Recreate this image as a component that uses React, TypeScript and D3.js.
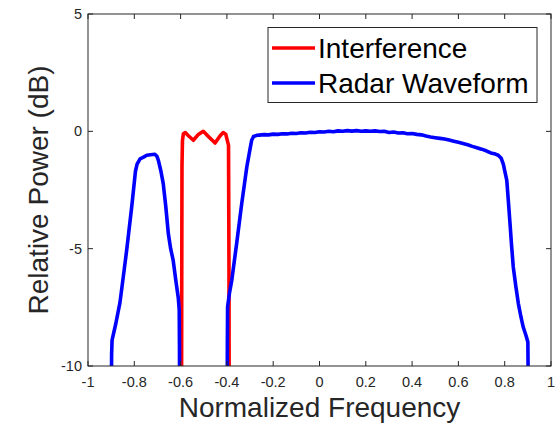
import React from "react";
import * as d3 from "d3";

const xTicks = [-1, -0.8, -0.6, -0.4, -0.2, 0, 0.2, 0.4, 0.6, 0.8, 1];
const xTickLabels = ["-1", "-0.8", "-0.6", "-0.4", "-0.2", "0", "0.2", "0.4", "0.6", "0.8", "1"];
const yTicks = [-10, -5, 0, 5];
const yTickLabels = ["-10", "-5", "0", "5"];

const interfFreq = [-0.596, -0.595, -0.594, -0.592, -0.588, -0.58, -0.565, -0.545, -0.525, -0.502, -0.48, -0.451, -0.43, -0.416, -0.405, -0.393, -0.391, -0.39];
const interfDb = [-12, -6, -1.5, -0.4, -0.1, -0.05, -0.2, -0.38, -0.15, 0.0, -0.22, -0.5, -0.2, -0.05, -0.12, -0.6, -6, -12];

const radarFreq = [
  -0.9, -0.898, -0.896, -0.88, -0.862, -0.845, -0.833, -0.811, -0.795, -0.788, -0.775, -0.76, -0.746, -0.73, -0.711,
  -0.703, -0.696, -0.685, -0.675, -0.664, -0.653, -0.643, -0.632, -0.62, -0.61, -0.606, -0.605, -0.604,
  -0.5,
  -0.399, -0.398, -0.397, -0.389, -0.379, -0.358, -0.336, -0.314, -0.3, -0.293, -0.285, -0.27,
  -0.26, -0.24, -0.22, -0.2, -0.18, -0.16, -0.14, -0.12, -0.1, -0.08, -0.06, -0.04, -0.02, 0, 0.02, 0.04, 0.06, 0.08, 0.1,
  0.12, 0.14, 0.16, 0.18, 0.2, 0.22, 0.24, 0.26, 0.28, 0.3, 0.32, 0.34, 0.36, 0.38, 0.4, 0.42, 0.44, 0.46, 0.48, 0.5,
  0.52, 0.54, 0.56, 0.58, 0.6, 0.62, 0.64, 0.66, 0.68, 0.7, 0.72, 0.74, 0.76, 0.772, 0.785, 0.794, 0.809, 0.816, 0.823,
  0.83, 0.837, 0.848, 0.859, 0.87, 0.88, 0.892, 0.9, 0.901, 0.902,
];
const radarDb = [
  -12, -9.5, -8.9, -8.2, -7.3, -6.0, -5.07, -3.2, -1.7, -1.4, -1.17, -1.1, -1.02, -1.0, -0.98,
  -1.05, -1.24, -1.7, -2.23, -3.2, -4.36, -5.0, -5.5, -6.4, -7.1, -7.6, -9, -12,
  -30,
  -12, -9, -7.48, -6.9, -6.35, -4.79, -3.08, -1.52, -0.75, -0.38, -0.22, -0.17,
  -0.16, -0.14, -0.15, -0.12, -0.13, -0.1, -0.11, -0.08, -0.09, -0.06, -0.07, -0.04, -0.05, -0.02, -0.03, 0.0, -0.02, 0.02, 0.0,
  0.03, 0.01, 0.03, 0.0, 0.02, 0.0, 0.02, -0.01, 0.0, -0.05, -0.03, -0.07, -0.06, -0.1, -0.09, -0.13, -0.15, -0.2, -0.24, -0.27,
  -0.3, -0.33, -0.37, -0.42, -0.47, -0.52, -0.57, -0.64, -0.7, -0.76, -0.83, -0.92, -0.97, -1.02, -1.15, -1.4, -2.09, -3.0, -3.93,
  -4.9, -5.78, -6.6, -7.34, -7.9, -8.34, -8.7, -8.98, -10, -12,
];

const seriesNames = ["Interference", "Radar Waveform"];
const seriesColors = ["#ff0000", "#0000ff"];

const W = 559;
const H = 424;
const L = 88;
const R = 551;
const T = 14;
const B = 366;
const axisColor = "#262626";
const font = "'Liberation Sans', Arial, Helvetica, sans-serif";

export default function App() {
  const x = d3.scaleLinear().domain([-1, 1]).range([L, R]);
  const y = d3.scaleLinear().domain([-10, 5]).range([B, T]);
  const line = d3
    .line<[number, number]>()
    .x((d) => x(d[0]))
    .y((d) => y(d[1]));
  const interf: [number, number][] = interfFreq.map((f, i) => [f, interfDb[i]]);
  const radar: [number, number][] = radarFreq.map((f, i) => [f, radarDb[i]]);
  const tickLen = 5;

  return (
    <svg
      width={W}
      height={H}
      style={{ position: "absolute", left: 0, top: 0, background: "#fff" }}
      fontFamily={font}
    >
      <rect x={0} y={0} width={W} height={H} fill="#fff" />
      <defs>
        <clipPath id="plotclip">
          <rect x={L} y={T} width={R - L} height={B - T} />
        </clipPath>
      </defs>
      <g clipPath="url(#plotclip)">
        <path d={line(interf) || ""} fill="none" stroke={seriesColors[0]} strokeWidth={3.6} strokeLinejoin="round" />
        <path d={line(radar) || ""} fill="none" stroke={seriesColors[1]} strokeWidth={3.6} strokeLinejoin="round" />
      </g>
      <rect x={L} y={T} width={R - L} height={B - T} fill="none" stroke={axisColor} strokeWidth={1} />
      {xTicks.map((t, i) => (
        <g key={"xt" + i}>
          <line x1={x(t)} x2={x(t)} y1={B} y2={B - tickLen} stroke={axisColor} strokeWidth={1} />
          <line x1={x(t)} x2={x(t)} y1={T} y2={T + tickLen} stroke={axisColor} strokeWidth={1} />
          <text x={x(t)} y={B + 21} textAnchor="middle" fontSize={14.5} fill={axisColor}>
            {xTickLabels[i]}
          </text>
        </g>
      ))}
      {yTicks.map((t, i) => (
        <g key={"yt" + i}>
          <line x1={L} x2={L + tickLen} y1={y(t)} y2={y(t)} stroke={axisColor} strokeWidth={1} />
          <line x1={R} x2={R - tickLen} y1={y(t)} y2={y(t)} stroke={axisColor} strokeWidth={1} />
          <text x={L - 6} y={y(t) + 5} textAnchor="end" fontSize={14.5} fill={axisColor}>
            {yTickLabels[i]}
          </text>
        </g>
      ))}
      <text x={(L + R) / 2} y={417} textAnchor="middle" fontSize={28} fill={axisColor}>
        Normalized Frequency
      </text>
      <text
        transform={`translate(48, ${(T + B) / 2}) rotate(-90)`}
        textAnchor="middle"
        fontSize={28}
        fill={axisColor}
      >
        Relative Power (dB)
      </text>
      <rect x={268} y={27.5} width={269} height={75} fill="#fff" stroke={axisColor} strokeWidth={1} />
      {seriesNames.map((n, i) => (
        <g key={"lg" + i}>
          <line x1={272} x2={315} y1={48 + i * 35} y2={48 + i * 35} stroke={seriesColors[i]} strokeWidth={3.6} />
          <text x={318} y={58 + i * 35} fontSize={28} fill="#000">
            {n}
          </text>
        </g>
      ))}
    </svg>
  );
}
